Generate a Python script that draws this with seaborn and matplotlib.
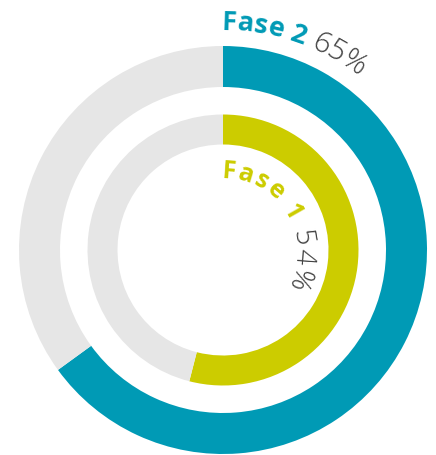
import numpy as np
import matplotlib.pyplot as plt
import seaborn as sns
from matplotlib import font_manager, ft2font

# Data
phases = ["Fase 2", "Fase 1"]
shares = [65, 54]
ring_colors = ["#009AB5", "#CCCC00"]
track_color = "#E6E6E6"
pct_color = "#404040"

sns.set_theme(style="white")
plt.rcParams['font.family'] = ['Open Sans', 'DejaVu Sans']

fig = plt.figure(figsize=(4.36, 4.56), dpi=100)
ax = fig.add_axes([0, 0, 1, 1])
cx, cy = 223, 205

# outer ring = Fase 2, inner ring = Fase 1
rings = [(204, 41), (135.5, 30)]
for (r, w), share, col in zip(rings, shares, ring_colors):
    ax.pie([share, 100 - share], colors=[col, track_color], startangle=90,
           counterclock=False, radius=r, center=(cx, cy),
           wedgeprops=dict(width=w, linewidth=0))

ax.set_xlim(0, 436)
ax.set_ylim(0, 456)
ax.set_aspect('equal')
ax.axis('off')


def advance(ch, prop):
    font = ft2font.FT2Font(font_manager.findfont(prop))
    font.set_size(prop.get_size_in_points(), 72)
    g = font.load_char(ord(ch))
    return g.linearHoriAdvance / 65536 * 100 / 72


def arc_text(segments, r, theta0, tracking=0.0):
    # place characters clockwise along a circle, tops pointing outward
    s = 0.0
    for text, prop, color in segments:
        for ch in text:
            adv = advance(ch, prop) + tracking
            th = np.radians(theta0) + (s + adv / 2) / r
            x = cx + r * np.sin(th)
            y = cy + r * np.cos(th)
            ax.text(x, y, ch, rotation=-np.degrees(th), rotation_mode='anchor',
                    ha='center', va='baseline', fontproperties=prop, color=color)
            s += adv


bold_outer = font_manager.FontProperties(family='Open Sans', weight='bold', size=19.5)
light_outer = font_manager.FontProperties(family='Open Sans', weight='light', size=21)
bold_inner = font_manager.FontProperties(family='Open Sans', weight='bold', size=18)
light_inner = font_manager.FontProperties(family='Open Sans', weight='light', size=20)

arc_text([(phases[0] + " ", bold_outer, ring_colors[0]),
          (f"{shares[0]}%", light_outer, pct_color)], r=221, theta0=-0.3)
arc_text([(phases[1] + " ", bold_inner, ring_colors[1]),
          (f"{shares[1]}%", light_inner, pct_color)], r=73, theta0=-2, tracking=1.8)

fig.savefig('out.png', dpi=100)
